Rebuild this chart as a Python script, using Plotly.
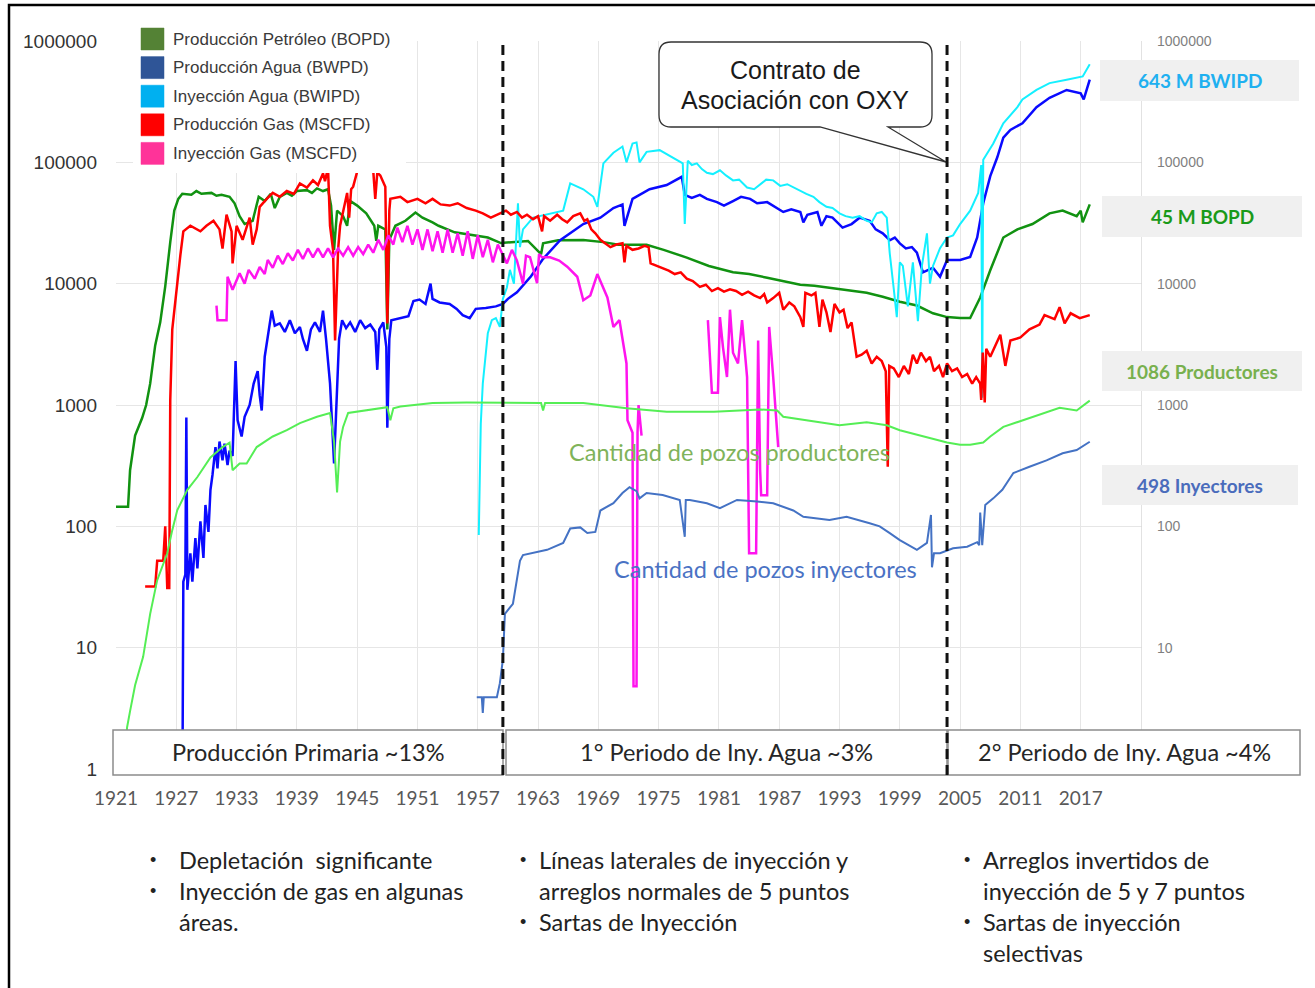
import plotly.graph_objects as go

# ---------------------------------------------------------------- data
# Producción Petróleo (BOPD)
oil_year = [1921.0, 1922.2, 1922.4, 1922.9, 1923.6, 1924.0, 1924.4, 1924.9, 1925.4, 1925.9,
            1926.4, 1926.8, 1927.2, 1927.6, 1928.5, 1929.0, 1929.5, 1930.5, 1931.0, 1931.5,
            1932.3, 1932.8, 1933.3, 1933.8, 1934.6, 1935.2, 1935.8, 1936.4, 1936.8, 1937.3,
            1938.0, 1938.5, 1939.0, 1940.0, 1940.5, 1941.0, 1941.6, 1942.1, 1942.4, 1942.7,
            1943.0, 1943.6, 1944.0, 1944.3, 1945.0, 1945.9, 1946.7, 1946.9, 1947.1, 1947.8,
            1948.0, 1948.2, 1948.8, 1949.8, 1950.8, 1951.5, 1952.5, 1953.1, 1954.7, 1956.4,
            1958.0, 1959.3, 1960.5, 1962.0, 1963.3, 1963.5, 1965.0, 1967.5, 1969.5, 1971.0,
            1973.8, 1975.5, 1977.8, 1980.0, 1982.4, 1984.0, 1985.8, 1987.5, 1989.1, 1990.5,
            1992.3, 1994.0, 1995.7, 1997.3, 1999.0, 2000.7, 2002.3, 2003.7, 2005.0, 2006.0,
            2007.0, 2008.0, 2009.3, 2010.7, 2012.2, 2013.9, 2015.2, 2016.6, 2017.0, 2017.2,
            2017.9]
oil_bopd = [145, 145, 290, 560, 780, 1000, 1500, 3100, 4800, 9500,
            22000, 40000, 50000, 55000, 54000, 58000, 55000, 56000, 53000, 54000,
            52000, 46000, 36000, 31000, 33000, 52000, 48000, 55000, 42000, 52000,
            56000, 53000, 58000, 59000, 56000, 61000, 58000, 60000, 44000, 19000,
            40000, 36000, 30000, 48000, 44000, 38000, 30000, 22500, 30000, 28000,
            4200, 23000, 30000, 33000, 38600, 35000, 32000, 30000, 26500, 25000,
            24000, 21600, 22000, 22500, 17500, 21500, 22800, 22900, 22000, 20900,
            20900, 19000, 16400, 14000, 12400, 12000, 11200, 10500, 9800, 9600,
            9200, 8800, 8400, 7800, 7100, 6600, 5700, 5300, 5200, 5200,
            7700, 12900, 24000, 28000, 31000, 38000, 40000, 36000, 40000, 32000,
            45000]

# Producción Agua (BWPD)
wat_year = [1927.6, 1927.7, 1927.9, 1928.0, 1928.1, 1928.4, 1928.6, 1928.9, 1929.1, 1929.4,
            1929.7, 1929.9, 1930.2, 1930.4, 1930.6, 1930.9, 1931.1, 1931.3, 1931.6, 1931.8,
            1932.1, 1932.3, 1932.6, 1932.9, 1933.1, 1933.5, 1933.8, 1934.3, 1934.7, 1935.1,
            1935.3, 1935.5, 1935.8, 1936.1, 1936.5, 1936.8, 1937.3, 1937.8, 1938.3, 1938.8,
            1939.3, 1939.6, 1940.0, 1940.4, 1940.8, 1941.3, 1941.6, 1941.9, 1942.3, 1942.7,
            1943.0, 1943.2, 1943.5, 1943.9, 1944.3, 1944.8, 1945.3, 1945.8, 1946.3, 1946.8,
            1947.0, 1947.2, 1947.6, 1947.9, 1948.0, 1948.2, 1948.4, 1949.3, 1950.1, 1950.6,
            1951.2, 1951.8, 1952.3, 1952.5, 1953.2, 1954.2, 1954.9, 1955.5, 1956.2, 1956.8,
            1957.8, 1958.8, 1959.5, 1960.0, 1960.9, 1962.3, 1963.5, 1965.2, 1967.5, 1969.2,
            1970.5, 1971.4, 1971.6, 1972.4, 1974.1, 1975.8, 1977.3, 1977.6, 1978.3, 1979.1,
            1979.8, 1980.8, 1981.5, 1982.4, 1983.2, 1984.1, 1984.8, 1985.8, 1986.5, 1987.4,
            1988.2, 1989.1, 1989.4, 1989.8, 1990.8, 1991.2, 1991.7, 1992.3, 1993.3, 1994.2,
            1995.0, 1996.0, 1996.6, 1997.3, 1998.0, 1998.5, 1999.0, 1999.6, 2000.2, 2000.7,
            2001.3, 2002.3, 2003.0, 2003.7, 2005.0, 2006.0, 2006.7, 2007.3, 2008.0, 2008.7,
            2009.3, 2010.0, 2011.2, 2012.6, 2013.9, 2015.6, 2017.0, 2017.3, 2017.9]
wat_bwpd = [0.5, 35, 40, 790, 30, 60, 35, 80, 45, 110,
            55, 150, 90, 200, 265, 450, 300, 500, 350, 480,
            320, 420, 380, 2300, 750, 550, 800, 1000, 1500, 1900,
            1200, 900, 2500, 3800, 6000, 4500, 4700, 4000, 5000, 3900,
            4400, 3500, 2800, 4200, 4800, 4000, 6000, 3500, 1500, 330,
            1200, 3500, 5000, 4300, 4800, 4000, 5000, 4300, 4600, 4000,
            1950, 4200, 4800, 3000, 650, 3500, 5000, 5200, 5400, 7200,
            7400, 6800, 10000, 7500, 7000, 6800, 6200, 5500, 5200, 6200,
            6300, 6500, 6800, 7500, 8500, 11500, 16000, 22800, 31000, 35000,
            42000, 45000, 30000, 50000, 60000, 65000, 76000, 54000, 51000, 54000,
            50000, 47000, 44000, 48000, 52000, 50000, 46000, 47000, 43000, 39000,
            41000, 39000, 32000, 37000, 39000, 30000, 36000, 35000, 29000, 31000,
            35000, 33000, 28000, 26000, 22800, 24000, 21500, 19500, 20000, 18000,
            12400, 13500, 11400, 15700, 15700, 16600, 24000, 46000, 77000, 110000,
            160000, 185000, 210000, 285000, 340000, 395000, 370000, 330000, 480000]

# Inyección Agua (BWIPD)
winj_year = [1957.1, 1957.2, 1957.3, 1957.5, 1957.8, 1958.0, 1958.4, 1958.8, 1959.2, 1959.5,
             1959.9, 1960.2, 1960.6, 1961.0, 1961.2, 1961.5, 1962.5, 1964.2, 1965.5, 1966.2,
             1967.5, 1968.5, 1968.9, 1969.5, 1970.5, 1971.4, 1971.8, 1972.4, 1972.8, 1973.1,
             1973.8, 1975.1, 1976.4, 1977.4, 1977.6, 1977.9, 1978.3, 1978.8, 1979.3, 1979.8,
             1980.4, 1981.1, 1981.7, 1982.4, 1983.0, 1983.8, 1984.5, 1985.1, 1985.7, 1986.4,
             1987.1, 1987.8, 1988.4, 1989.1, 1989.7, 1990.4, 1991.0, 1991.7, 1992.3, 1993.0,
             1993.6, 1994.3, 1995.0, 1995.7, 1996.2, 1996.7, 1997.2, 1997.7, 1998.0, 1998.4,
             1998.7, 1999.0, 1999.3, 1999.8, 2000.3, 2000.8, 2001.2, 2001.7, 2002.0, 2002.3,
             2003.0, 2003.7, 2004.3, 2005.0, 2006.0, 2006.8, 2007.1, 2007.2, 2007.3, 2008.3,
             2009.3, 2010.7, 2011.2, 2012.6, 2013.9, 2015.6, 2017.2, 2017.9]
winj_bwipd = [85, 260, 700, 1500, 2800, 3900, 5000, 5200, 4400, 7500,
              9300, 13000, 10000, 46000, 20000, 28000, 35000, 38000, 40000, 67000,
              60000, 52000, 43000, 98000, 120000, 135000, 100000, 143000, 146000, 100000,
              122000, 126000, 110000, 98000, 31000, 103000, 95000, 98000, 88000, 82000,
              80000, 86000, 78000, 71000, 72000, 62000, 60000, 66000, 72000, 71000,
              64000, 66000, 62000, 58000, 55000, 52000, 47000, 43000, 42000, 38000,
              36000, 35000, 36000, 33000, 32000, 38000, 39000, 35000, 17700, 9000,
              5300, 15000, 14000, 6500, 15000, 4900, 14000, 26000, 10000, 14000,
              19600, 24000, 25000, 31000, 40000, 56000, 95000, 1150, 105000, 143000,
              210000, 285000, 330000, 395000, 450000, 480000, 510000, 643000]

# Producción Gas (MSCFD)
gas_year = [1923.9, 1924.9, 1925.1, 1925.7, 1925.9, 1926.1, 1926.3, 1926.4, 1926.6, 1926.9,
            1927.2, 1927.4, 1927.7, 1928.4, 1929.4, 1930.0, 1930.7, 1931.3, 1931.6, 1932.0,
            1932.5, 1932.6, 1933.0, 1933.6, 1934.3, 1934.6, 1935.0, 1935.3, 1936.0, 1936.6,
            1937.3, 1938.0, 1938.7, 1939.3, 1940.0, 1940.6, 1941.1, 1941.6, 1941.8, 1942.1,
            1942.3, 1942.6, 1942.8, 1943.1, 1943.3, 1943.6, 1944.0, 1944.2, 1944.4, 1944.6,
            1945.1, 1946.0, 1946.6, 1946.8, 1947.0, 1947.3, 1947.8, 1948.0, 1948.2, 1948.3,
            1949.3, 1950.0, 1951.0, 1951.8, 1952.5, 1953.3, 1954.2, 1955.0, 1955.9, 1956.8,
            1957.5, 1958.3, 1959.2, 1959.8, 1960.3, 1960.9, 1961.4, 1961.9, 1962.5, 1963.0,
            1963.4, 1963.6, 1964.2, 1964.9, 1965.4, 1965.9, 1966.5, 1967.2, 1967.6, 1967.9,
            1968.3, 1968.7, 1969.2, 1969.7, 1970.2, 1970.8, 1971.4, 1971.6, 1971.8, 1972.4,
            1973.0, 1973.6, 1974.0, 1974.2, 1974.8, 1975.4, 1976.0, 1976.6, 1977.2, 1977.8,
            1978.4, 1979.1, 1979.7, 1980.3, 1980.9, 1981.5, 1982.1, 1982.7, 1983.3, 1983.9,
            1984.5, 1985.1, 1985.5, 1985.8, 1986.4, 1987.0, 1987.4, 1988.0, 1988.5, 1989.1,
            1989.4, 1989.6, 1990.2, 1990.6, 1991.0, 1991.3, 1991.7, 1992.1, 1992.5, 1993.0,
            1993.4, 1993.8, 1994.2, 1994.7, 1995.2, 1995.7, 1996.2, 1996.7, 1997.2, 1997.6,
            1997.8, 1997.95, 1998.4, 1998.9, 1999.4, 1999.9, 2000.3, 2000.7, 2001.1, 2001.6,
            2002.0, 2002.4, 2002.9, 2003.3, 2003.7, 2004.2, 2004.7, 2005.2, 2005.7, 2006.2,
            2006.6, 2007.0, 2007.1, 2007.25, 2007.45, 2007.6, 2008.0, 2009.0, 2009.5, 2010.0,
            2011.0, 2011.9, 2012.9, 2013.4, 2014.4, 2014.9, 2015.4, 2016.0, 2016.9, 2017.9]
gas_mscfd = [32, 32, 52, 52, 100, 31, 31, 1100, 4200, 7300,
             13000, 17000, 27000, 30000, 27000, 30000, 33000, 28000, 19500, 37000,
             27000, 14700, 30000, 23000, 35000, 21000, 28000, 43000, 50000, 56000,
             52000, 58000, 55000, 67000, 62000, 71000, 65000, 81000, 70000, 90000,
             30000, 19000, 3400, 19000, 30000, 40000, 56000, 35000, 60000, 63000,
             90000, 88000, 85000, 50000, 82000, 78000, 63000, 4700, 40000, 50000,
             52000, 47000, 50000, 46000, 50000, 45000, 44000, 46000, 42000, 40000,
             38000, 35000, 38000, 40000, 37000, 39000, 35000, 37000, 34000, 36000,
             27000, 36000, 33000, 37000, 34000, 32000, 36000, 38000, 33000, 34000,
             28000, 26000, 23000, 21500, 20000, 21000, 21500, 15000, 20500, 19000,
             19500, 20500, 20000, 14700, 14000, 13500, 12800, 12000, 12400, 11000,
             10500, 9400, 9800, 8700, 9200, 8600, 9000, 8700, 8100, 8600,
             8000, 7600, 8200, 7000, 7600, 8400, 6100, 7000, 6500, 5300,
             4400, 8400, 8000, 8400, 4400, 7400, 5800, 4000, 6800, 5800,
             6100, 4300, 4800, 2500, 2600, 2800, 2200, 2500, 2300, 1900,
             310, 2100, 2000, 1700, 2100, 1800, 2600, 2200, 2700, 2300,
             2500, 1900, 2100, 1700, 2200, 1900, 2000, 1700, 1800, 1500,
             1700, 1500, 1100, 2700, 1050, 2900, 2500, 3800, 2100, 3400,
             3600, 4200, 4600, 5500, 5100, 6400, 4700, 5700, 5200, 5500]

# Inyección Gas (MSCFD) -- None marks the years without injection
ginj_year = [1931.0, 1931.1, 1932.0, 1932.1, 1932.6, 1933.3, 1933.8, 1934.2, 1934.8, 1935.3,
             1935.8, 1936.1, 1936.6, 1937.1, 1937.6, 1938.1, 1938.6, 1939.1, 1939.6, 1940.1,
             1940.6, 1941.1, 1941.6, 1942.1, 1942.6, 1943.1, 1943.6, 1944.1, 1944.6, 1945.1,
             1945.6, 1946.1, 1946.6, 1947.1, 1947.6, 1948.1, 1948.6, 1949.0, 1949.5, 1950.0,
             1950.5, 1951.0, 1951.5, 1952.0, 1952.5, 1953.0, 1953.5, 1954.0, 1954.5, 1955.0,
             1955.5, 1956.0, 1956.5, 1957.0, 1957.5, 1958.0, 1958.5, 1959.0, 1959.9, 1960.4,
             1960.9, 1961.5, 1961.8, 1962.2, 1962.9, 1963.1, 1963.4, 1964.2, 1965.1, 1965.9,
             1966.9, 1967.5, 1968.2, 1968.9, 1969.9, 1970.5, 1971.1, 1971.8, 1971.9, 1972.4,
             1972.5, 1972.8, 1972.9, 1973.0, 1973.3, 1975.0, 1979.9, 1980.3, 1980.9, 1981.1,
             1981.4, 1981.8, 1982.1, 1982.4, 1982.9, 1983.3, 1983.8, 1983.9, 1984.0, 1984.7,
             1984.9, 1985.1, 1985.2, 1985.8, 1986.0, 1986.4, 1986.9]
ginj_mscfd = [6600, 5000, 5000, 11400, 8900, 12200, 10000, 13000, 11000, 13700,
              12000, 15700, 13500, 17000, 14500, 17800, 15500, 19000, 16000, 19500,
              16500, 19500, 16500, 19500, 16500, 19500, 17000, 20000, 17000, 20000,
              17500, 21000, 18000, 23000, 19000, 25000, 21000, 29000, 22000, 30000,
              21000, 28000, 19000, 28000, 18500, 27000, 18000, 28000, 18000, 26000,
              17000, 27000, 16000, 25000, 16500, 23000, 15000, 21000, 14700, 19000,
              15500, 10000, 17000, 16500, 10100, 17500, 16500, 16500, 15500, 13800,
              11400, 7300, 8000, 12000, 7700, 4400, 5000, 2200, 750, 590,
              4.8, 4.8, 600, 1000, 560, None, 5000, 1260, 1260, 5300,
              3000, 1700, 6100, 2700, 2200, 5000, 1700, 450, 60, 60,
              3400, 290, 180, 180, 4400, 1700, 450]

# Cantidad de pozos productores
prod_year = [1921.9, 1922.1, 1922.4, 1922.9, 1923.7, 1924.4, 1925.1, 1926.1, 1926.6, 1927.1,
             1928.1, 1929.1, 1930.4, 1931.6, 1932.3, 1932.6, 1933.3, 1934.0, 1935.0, 1936.6,
             1938.0, 1939.3, 1941.0, 1942.3, 1942.7, 1943.0, 1943.3, 1943.6, 1944.1, 1946.0,
             1948.0, 1948.3, 1948.6, 1949.3, 1952.5, 1955.9, 1959.2, 1963.3, 1963.5, 1963.7,
             1967.5, 1971.8, 1975.8, 1980.5, 1985.1, 1986.8, 1987.4, 1990.8, 1993.0, 1995.7,
             1997.7, 1999.0, 2001.0, 2003.7, 2005.0, 2006.0, 2007.3, 2008.0, 2009.3, 2011.2,
             2013.2, 2014.9, 2016.6, 2017.9]
prod_wells = [1.3, 2.2, 3.0, 4.9, 8.4, 19, 36, 60, 93, 136,
              200, 255, 370, 450, 490, 290, 330, 330, 450, 550,
              620, 710, 800, 860, 500, 190, 500, 660, 860, 910,
              960, 750, 940, 970, 1040, 1050, 1040, 1040, 900, 1040,
              1040, 940, 880, 880, 920, 900, 800, 720, 680, 720,
              680, 620, 560, 490, 470, 470, 490, 550, 660, 750,
              850, 950, 900, 1086]

# Cantidad de pozos inyectores
inj_year = [1956.9, 1957.4, 1957.5, 1957.6, 1958.9, 1959.2, 1959.5, 1959.7, 1960.5, 1961.2,
            1961.5, 1963.9, 1965.5, 1966.2, 1967.2, 1967.9, 1968.7, 1969.2, 1970.5, 1971.4,
            1972.1, 1972.8, 1973.1, 1973.8, 1975.4, 1977.1, 1977.6, 1977.7, 1978.1, 1979.8,
            1981.1, 1982.8, 1984.8, 1986.4, 1988.4, 1989.4, 1992.0, 1993.7, 1996.0, 1997.0,
            1998.0, 1999.0, 2000.7, 2001.7, 2002.1, 2002.2, 2002.4, 2003.0, 2004.3, 2005.7,
            2006.7, 2006.9, 2007.0, 2007.2, 2007.5, 2008.3, 2009.2, 2010.3, 2011.9, 2013.6,
            2015.2, 2016.6, 2017.9]
inj_wells = [3.9, 3.9, 2.9, 3.9, 3.9, 5.1, 8, 19, 23, 52,
             58, 64, 73, 96, 98, 88, 90, 135, 155, 188,
             210, 195, 170, 188, 181, 165, 82, 165, 165, 155,
             141, 165, 160, 155, 135, 120, 113, 120, 106, 100,
             88, 77, 64, 73, 124, 46, 60, 60, 66, 68,
             74, 70, 130, 70, 150, 170, 200, 275, 310, 350,
             400, 425, 498]

# axis ticks
year_ticks = list(range(1921, 2018, 6))
log_ticks = [1, 10, 100, 1000, 10000, 100000, 1000000]
right_ticks = [10, 100, 1000, 10000, 100000, 1000000]

legend_labels = ["Producción Petróleo (BOPD)", "Producción Agua (BWPD)",
                 "Inyección Agua (BWIPD)", "Producción Gas (MSCFD)", "Inyección Gas (MSCFD)"]
legend_colors = ["#548235", "#2f5597", "#00b0f0", "#ff0000", "#ff3399"]

side_labels = ["643 M BWIPD", "45 M BOPD", "1086 Productores", "498 Inyectores"]
side_colors = ["#1fb0f0", "#1a9a1a", "#78b04e", "#4a6cbc"]

phase_labels = ["Producción Primaria ~13%", "1° Periodo de Iny. Agua ~3%", "2° Periodo de Iny. Agua ~4%"]
phase_breaks = [1959.5, 2003.7]

notes_primary = [("•", "Depletación\u00a0 significante"), ("•", "Inyección de gas en algunas"), ("", "áreas.")]
notes_first = [("•", "Líneas laterales de inyección y"), ("", "arreglos normales de 5 puntos"),
               ("•", "Sartas de Inyección")]
notes_second = [("•", "Arreglos invertidos de"), ("", "inyección de 5 y 7 puntos"),
                ("•", "Sartas de inyección"), ("", "selectivas")]

# ---------------------------------------------------------------- layout helpers
W, H = 1315, 988
ML, MR, MT, MB = 116, 173, 41, 219
PW, PH = W - ML - MR, H - MT - MB


def px(x):
    return (x - ML) / PW


def py(y):
    return (H - MB - y) / PH


ARIAL = "Liberation Sans, Arial, sans-serif"
SOFT = "Lato, Carlito, Calibri, sans-serif"

fig = go.Figure()


def add_line(x, y, color, width, axis="y"):
    fig.add_trace(go.Scatter(x=x, y=y, mode="lines", yaxis=axis, showlegend=False,
                             connectgaps=False, hoverinfo="skip",
                             line=dict(color=color, width=width)))


add_line(prod_year, prod_wells, "#55ee55", 2, "y2")
add_line(inj_year, inj_wells, "#4472c4", 2, "y2")
add_line(oil_year, oil_bopd, "#119211", 2.5)
add_line(wat_year, wat_bwpd, "#0a0aff", 2.5)
add_line(winj_year, winj_bwipd, "#14f0ff", 2)
add_line(gas_year, gas_mscfd, "#ff0000", 2.5)
add_line(ginj_year, ginj_mscfd, "#ff14ee", 2.5)

shapes = []
annotations = []

# right border gridline of the plot area
shapes.append(dict(type="line", xref="x", yref="paper", x0=2023.1, x1=2023.1, y0=0, y1=1,
                   line=dict(color="#d9d9d9", width=1.5)))

# legend panel
shapes.append(dict(type="rect", xref="paper", yref="paper", x0=px(133), x1=px(406), y0=py(24), y1=py(173),
                   fillcolor="white", line=dict(width=0)))
for i, (lab, col) in enumerate(zip(legend_labels, legend_colors)):
    yc = 39 + i * 28.6
    shapes.append(dict(type="rect", xref="paper", yref="paper", x0=px(141), x1=px(164),
                       y0=py(yc + 11), y1=py(yc - 11), fillcolor=col, line=dict(color=col, width=0.5)))
    annotations.append(dict(xref="paper", yref="paper", x=px(171), y=py(yc), text=lab, showarrow=False,
                            xanchor="left", yanchor="middle", font=dict(family=ARIAL, size=17, color="#3a3a3a")))

# callout
r = 12
bx0, bx1, by0, by1 = 659, 932, 42, 127


def P(x, y):
    return f"{px(x):.5f},{py(y):.5f}"


path = (f"M {P(bx0 + r, by0)} L {P(bx1 - r, by0)} Q {P(bx1, by0)} {P(bx1, by0 + r)} "
        f"L {P(bx1, by1 - r)} Q {P(bx1, by1)} {P(bx1 - r, by1)} L {P(888, by1)} L {P(946, 162)} "
        f"L {P(820, by1)} L {P(bx0 + r, by1)} Q {P(bx0, by1)} {P(bx0, by1 - r)} "
        f"L {P(bx0, by0 + r)} Q {P(bx0, by0)} {P(bx0 + r, by0)} Z")
shapes.append(dict(type="path", xref="paper", yref="paper", path=path, fillcolor="white",
                   line=dict(color="#333333", width=1.3)))
annotations.append(dict(xref="paper", yref="paper", x=px(795), y=py(70), showarrow=False,
                        text="Contrato de", xanchor="center", yanchor="middle",
                        font=dict(family=ARIAL, size=25, color="#1a1a1a")))
annotations.append(dict(xref="paper", yref="paper", x=px(795), y=py(100), showarrow=False,
                        text="Asociación con OXY", xanchor="center", yanchor="middle",
                        font=dict(family=ARIAL, size=25, color="#1a1a1a")))

# side value boxes
side_boxes = [(1100, 1299, 60, 101), (1102, 1302, 196, 237), (1102, 1302, 351, 391), (1102, 1298, 465, 505)]
for (x0, x1, y0, y1), lab, col in zip(side_boxes, side_labels, side_colors):
    shapes.append(dict(type="rect", xref="paper", yref="paper", x0=px(x0), x1=px(x1), y0=py(y1), y1=py(y0),
                       fillcolor="#f0f0f0", line=dict(width=0)))
    annotations.append(dict(xref="paper", yref="paper", x=px((x0 + x1) / 2), y=py((y0 + y1) / 2), text=f"<b>{lab}</b>",
                            showarrow=False, xanchor="center", yanchor="middle",
                            font=dict(family=SOFT, size=19, color=col)))

# phase boxes along the bottom
phase_boxes = [(113, 503), (506, 947), (948, 1300)]
for (x0, x1), lab in zip(phase_boxes, phase_labels):
    shapes.append(dict(type="rect", xref="paper", yref="paper", x0=px(x0), x1=px(x1), y0=py(775), y1=py(730),
                       fillcolor="white", line=dict(color="#8c8c8c", width=1.5)))
    annotations.append(dict(xref="paper", yref="paper", x=px((x0 + x1) / 2), y=py(752), text=lab, showarrow=False,
                            xanchor="center", yanchor="middle", font=dict(family=SOFT, size=23.5, color="#262626")))

# phase separators
for xb in phase_breaks:
    shapes.append(dict(type="line", xref="x", yref="paper", x0=xb, x1=xb, y0=py(775), y1=1.0,
                       line=dict(color="#111111", width=3, dash="10px,6px")))

# outer frame
shapes.append(dict(type="rect", xref="paper", yref="paper", x0=px(9), x1=px(1340), y0=py(1010), y1=py(5),
                   fillcolor="rgba(0,0,0,0)", line=dict(color="#000000", width=2.5)))

# curve captions
annotations.append(dict(xref="paper", yref="paper", x=px(729), y=py(452), text="Cantidad de pozos productores",
                        showarrow=False, xanchor="center", yanchor="middle",
                        font=dict(family=SOFT, size=23.5, color="#7fb35a")))
annotations.append(dict(xref="paper", yref="paper", x=px(765), y=py(569), text="Cantidad de pozos inyectores",
                        showarrow=False, xanchor="center", yanchor="middle",
                        font=dict(family=SOFT, size=23.5, color="#4a72c4")))

# notes under each phase
for notes, xb, xt in [(notes_primary, 153, 177), (notes_first, 523, 537), (notes_second, 967, 981)]:
    for i, (bul, txt) in enumerate(notes):
        yc = 860 + i * 31
        if bul:
            annotations.append(dict(xref="paper", yref="paper", x=px(xb), y=py(yc), text=bul, showarrow=False,
                                    xanchor="center", yanchor="middle",
                                    font=dict(family=ARIAL, size=18, color="#222222")))
        annotations.append(dict(xref="paper", yref="paper", x=px(xt), y=py(yc), text=txt, showarrow=False,
                                xanchor="left", yanchor="middle",
                                font=dict(family=SOFT, size=23.5, color="#222222")))

fig.update_layout(
    width=W, height=H,
    margin=dict(l=ML, r=MR, t=MT, b=MB, pad=0),
    paper_bgcolor="white", plot_bgcolor="white",
    showlegend=False,
    shapes=shapes, annotations=annotations,
    xaxis=dict(range=[1921, 2023.1], tickmode="array", tickvals=year_ticks,
               ticktext=[str(t) for t in year_ticks], showgrid=True, gridcolor="#e6e6e6", gridwidth=1,
               zeroline=False, showline=False, ticks="", ticklabelstandoff=16,
               tickfont=dict(family=SOFT, size=19, color="#595959")),
    yaxis=dict(type="log", range=[0, 6], tickmode="array", tickvals=log_ticks,
               ticktext=[str(t) for t in log_ticks], showgrid=True, gridcolor="#e6e6e6", gridwidth=1,
               zeroline=False, showline=False, ticks="", ticklabelstandoff=18,
               tickfont=dict(family=ARIAL, size=19, color="#333333")),
    yaxis2=dict(type="log", range=[0, 6], overlaying="y", side="right", tickmode="array",
                tickvals=right_ticks, ticktext=[str(t) for t in right_ticks], showgrid=False,
                zeroline=False, showline=False, ticks="", ticklabelstandoff=14,
                tickfont=dict(family=ARIAL, size=14, color="#7f7f7f")),
)

fig.write_html("out.html")
